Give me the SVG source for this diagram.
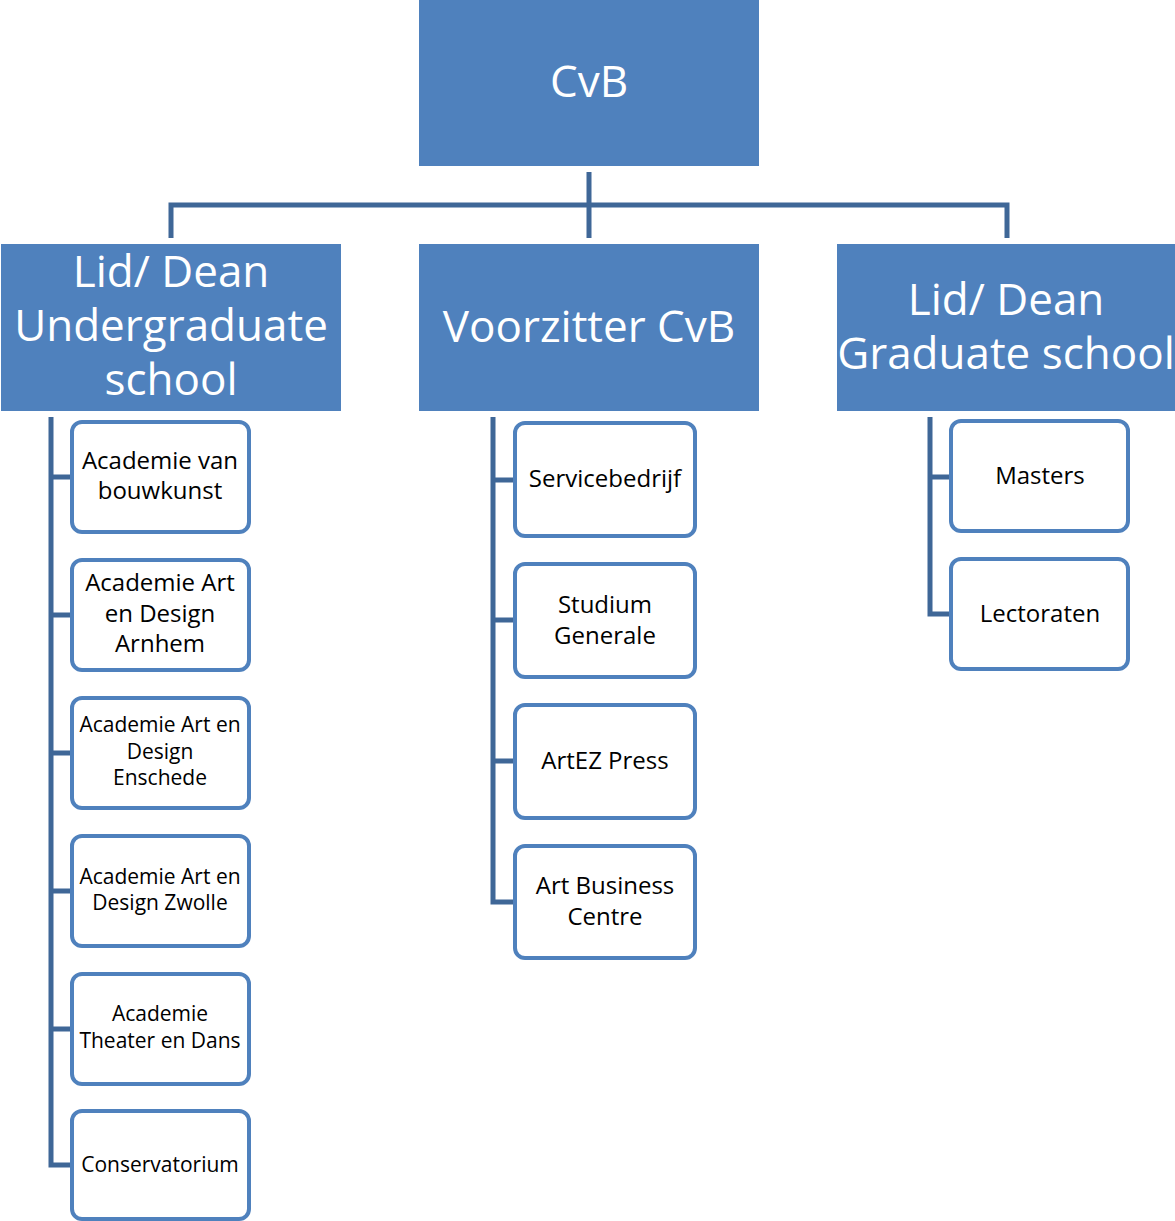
<svg xmlns="http://www.w3.org/2000/svg" width="1175" height="1221" viewBox="0 0 1175 1221">
<style>
.big{fill:#4F81BD}
.bt{fill:#fff;font-family:"Open Sans","Liberation Sans",sans-serif;font-size:44px;text-anchor:middle}
.sm{fill:#fff;stroke:#4F81BD;stroke-width:4}
.st{fill:#000;font-family:"Open Sans","Liberation Sans",sans-serif;font-size:24px;text-anchor:middle}
.st2{fill:#000;font-family:"Open Sans","Liberation Sans",sans-serif;font-size:21px;text-anchor:middle}
.c{fill:none;stroke:#3F6797;stroke-width:5}
</style>
<g id="connectors">
<path class="c" d="M589 172V238M171 238V205H1007V238"/>
<path class="c" d="M51 417V1165H72M51 477H72M51 615H72M51 753H72M51 891H72M51 1029H72"/>
<path class="c" d="M493 417V902H515M493 480H515M493 620H515M493 761H515"/>
<path class="c" d="M930 417V614H951M930 477H951"/>
</g>
<g id="cvb"><rect class="big" x="419" y="0" width="340" height="166"/><text class="bt" x="589" y="97">CvB</text></g>
<g id="undergrad"><rect class="big" x="1" y="244" width="340" height="167"/><text class="bt" x="171" y="287">Lid/ Dean</text><text class="bt" x="171" y="341">Undergraduate</text><text class="bt" x="171" y="395">school</text></g>
<g id="voorzitter"><rect class="big" x="419" y="244" width="340" height="167"/><text class="bt" x="589" y="342">Voorzitter CvB</text></g>
<g id="graduate"><rect class="big" x="837" y="244" width="338" height="167"/><text class="bt" x="1006" y="315">Lid/ Dean</text><text class="bt" x="1006" y="369">Graduate school</text></g>
<g id="bouwkunst"><rect class="sm" x="72" y="422" width="177" height="110" rx="10"/><text class="st" x="160" y="469">Academie van</text><text class="st" x="160" y="499">bouwkunst</text></g>
<g id="arnhem"><rect class="sm" x="72" y="560" width="177" height="110" rx="10"/><text class="st" x="160" y="591">Academie Art</text><text class="st" x="160" y="622">en Design</text><text class="st" x="160" y="652">Arnhem</text></g>
<g id="enschede"><rect class="sm" x="72" y="698" width="177" height="110" rx="10"/><text class="st2" x="160" y="732">Academie Art en</text><text class="st2" x="160" y="759">Design</text><text class="st2" x="160" y="785">Enschede</text></g>
<g id="zwolle"><rect class="sm" x="72" y="836" width="177" height="110" rx="10"/><text class="st2" x="160" y="884">Academie Art en</text><text class="st2" x="160" y="910">Design Zwolle</text></g>
<g id="theater"><rect class="sm" x="72" y="974" width="177" height="110" rx="10"/><text class="st2" x="160" y="1021">Academie</text><text class="st2" x="160" y="1048">Theater en Dans</text></g>
<g id="conservatorium"><rect class="sm" x="72" y="1111" width="177" height="108" rx="10"/><text class="st2" x="160" y="1172">Conservatorium</text></g>
<g id="servicebedrijf"><rect class="sm" x="515" y="423" width="180" height="113" rx="10"/><text class="st" x="605" y="487">Servicebedrijf</text></g>
<g id="studium"><rect class="sm" x="515" y="564" width="180" height="113" rx="10"/><text class="st" x="605" y="613">Studium</text><text class="st" x="605" y="644">Generale</text></g>
<g id="artez"><rect class="sm" x="515" y="705" width="180" height="113" rx="10"/><text class="st" x="605" y="769">ArtEZ Press</text></g>
<g id="abc"><rect class="sm" x="515" y="846" width="180" height="112" rx="10"/><text class="st" x="605" y="894">Art Business</text><text class="st" x="605" y="925">Centre</text></g>
<g id="masters"><rect class="sm" x="951" y="421" width="177" height="110" rx="10"/><text class="st" x="1040" y="484">Masters</text></g>
<g id="lectoraten"><rect class="sm" x="951" y="559" width="177" height="110" rx="10"/><text class="st" x="1040" y="622">Lectoraten</text></g>
</svg>
